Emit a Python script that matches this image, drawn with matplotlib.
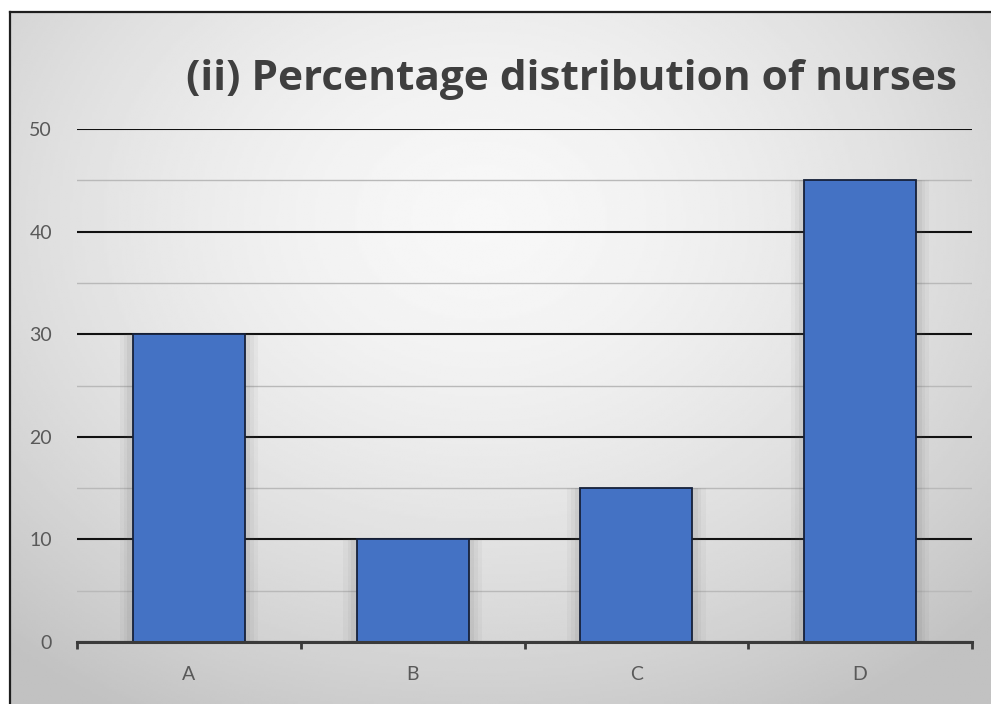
import numpy as np
import matplotlib.pyplot as plt
from matplotlib.lines import Line2D

categories = ['A', 'B', 'C', 'D']
percent = [30, 10, 15, 45]
major_ticks = [0, 10, 20, 30, 40, 50]
minor_ticks = [5, 15, 25, 35, 45]

W, H = 991, 704
fig = plt.figure(figsize=(W / 100, H / 100), dpi=100)
fig.patch.set_facecolor('white')

# gradient panel inside the frame
x0, ytop = 10 / W, 1 - 12 / H
bg = fig.add_axes([x0, 0, 1 - x0, ytop], zorder=-2)
gx = np.linspace(0, 1, 400)
gy = np.linspace(0, 1, 300)
XX, YY = np.meshgrid(gx, gy)
r = np.sqrt(((XX - 0.48) / 0.75) ** 2 + ((YY - 0.3) / 0.85) ** 2)
shade = np.clip(0.97 - 0.22 * r ** 1.6, 0.76, 0.97)
bg.imshow(shade, cmap='gray', vmin=0, vmax=1, aspect='auto', extent=[0, 1, 1, 0])
bg.set_axis_off()

# frame lines (box runs off the right and bottom edge)
fig.add_artist(Line2D([x0, x0], [0, ytop], color='#1e1e1e', lw=1.6))
fig.add_artist(Line2D([x0, 1], [ytop, ytop], color='#1e1e1e', lw=1.6))

ax = fig.add_axes([77 / W, 1 - 642 / H, (972 - 77) / W, (642 - 129) / H])
ax.set_facecolor('none')
xs = np.arange(len(categories))

# soft shadows behind the bars
for k, a in zip([0.62, 0.58, 0.55], [0.05, 0.06, 0.08]):
    ax.bar(xs, percent, width=k, color='#606060', alpha=a, zorder=2, linewidth=0)
ax.bar(xs, percent, width=0.5, color='#4472C4', edgecolor='#16213a', linewidth=1.3, zorder=3)

ax.set_xlim(-0.5, 3.5)
ax.set_ylim(0, 50)
ax.set_yticks(major_ticks)
ax.set_yticks(minor_ticks, minor=True)
ax.grid(True, which='major', axis='y', color='#111111', linewidth=1.5, zorder=1)
ax.grid(True, which='minor', axis='y', color='#b9b9b9', linewidth=1.0, zorder=1)
ax.set_axisbelow(True)

ax.set_xticks(xs)
ax.set_xticklabels(categories)
ax.set_xticks(np.arange(-0.5, 4, 1), minor=True)

for s in ['top', 'right', 'left']:
    ax.spines[s].set_visible(False)
ax.spines['bottom'].set_color('#3a3a3a')
ax.spines['bottom'].set_linewidth(2.2)
ax.spines['bottom'].set_zorder(4)

ax.tick_params(axis='y', which='both', length=0, pad=18, labelsize=14, labelcolor='#595959')
ax.tick_params(axis='x', which='major', length=0, pad=17, labelsize=14, labelcolor='#595959')
ax.tick_params(axis='x', which='minor', length=5, width=2, color='#3a3a3a', direction='out')
for lab in ax.get_xticklabels() + ax.get_yticklabels():
    lab.set_family('Lato')

fig.text(571 / W, 1 - 79 / H, '(ii) Percentage distribution of nurses', ha='center', va='center',
         fontsize=30.5, fontweight='bold', family='Open Sans', color='#3f3f3f')

fig.savefig('out.png', dpi=100)
